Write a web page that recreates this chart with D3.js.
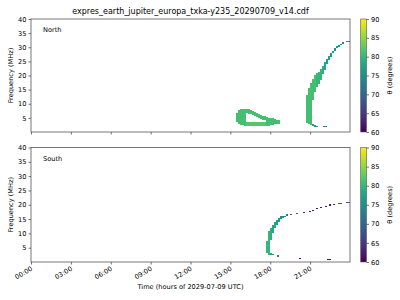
<!DOCTYPE html>
<html>
<head>
<meta charset="utf-8">
<script src="https://cdn.jsdelivr.net/npm/d3@7"></script>
<style>
  body { margin: 0; background: #fff; }
  svg text { font-family: "DejaVu Sans", sans-serif; fill: #000; }
</style>
</head>
<body>
<svg id="chart" width="400" height="300"></svg>
<script>
// time bins are 0.15 h wide, frequencies in MHz, theta in degrees
let binHours = 0.15;

let northT     = [15.45,15.6,15.75,15.9,16.05,16.2,16.2,16.35,16.35,16.5,16.5,16.65,16.65,16.8,16.8,16.95,16.95,17.1,17.1,17.25,17.25,17.4,17.4,17.55,17.55,17.7,17.85,18.0,18.15,18.3,18.45,18.6,
                  20.7,20.85,21.0,21.15,21.15,21.3,21.3,21.45,21.45,21.6,21.75,21.9,22.05,22.2,22.35,22.5,22.65,22.8,22.95,23.1,23.25,23.4,23.55,23.7,23.85,
                  21.98,22.13,22.85,23.0];
let northFlo   = [3.5,2.8,2.5,2.5,2.3,6.7,2.3,6.5,2.3,6.4,2.3,6.0,2.3,5.7,2.3,5.3,2.3,5.0,2.3,4.6,2.3,4.2,2.3,4.1,2.3,2.3,2.3,2.5,2.5,2.7,2.8,3.0,
                  3.2,2.8,2.5,11.3,2.1,14.2,1.9,15.9,1.9,17.0,18.4,20.5,21.9,24.1,25.5,26.7,27.8,28.7,29.6,30.1,30.8,31.3,31.7,32.0,32.0,
                  1.7,1.7,1.25,1.25];
let northFhi   = [6.7,7.8,8.1,8.3,8.3,8.1,3.7,8.0,3.5,7.8,3.5,7.4,3.5,7.1,3.5,6.7,3.4,6.4,3.4,6.0,3.4,5.7,3.4,5.5,3.4,5.3,5.1,5.0,4.8,4.6,4.4,4.2,
                  13.1,15.6,17.3,18.8,2.7,20.2,2.4,20.9,2.3,21.2,22.3,23.4,24.8,25.8,26.9,27.8,28.7,29.6,30.3,30.8,31.3,31.7,32.0,32.3,32.3,
                  2.0,2.0,1.5,1.5];
let northTheta = [81,81,81,81,81,81,82,81,82,81,82,81,82,81,82,81,82,81,82,81,82,81,82,81,82,81,81,81,81,81,81,81,
                  81,81,81,81,77,81,76,80,76,80,80,79,78,77,77,76,76,75,75,75,74,74,74,74,74,
                  73,73,66,66];

let southT     = [17.7,17.85,18.0,18.0,18.15,18.15,18.3,18.45,18.6,18.75,18.9,19.05,
                  18.5,19.15,20.15,22.25,22.42,
                  19.2,19.5,19.95,20.5,20.9,21.15,21.45,21.78,22.1,22.4,22.75,23.1,23.25,23.7,23.85];
let southFlo   = [3.1,2.6,7.7,2.4,10.1,2.3,11.9,12.9,13.9,15.0,15.3,15.7,
                  1.9,1.6,1.1,0.8,0.8,
                  16.2,16.4,16.8,17.2,17.6,17.9,18.4,18.9,19.3,19.7,20.0,20.3,20.3,20.5,20.5];
let southFhi   = [7.3,10.8,12.0,3.0,13.1,2.7,14.1,14.8,15.5,15.9,16.0,16.2,
                  2.3,1.9,1.4,1.1,1.1,
                  16.6,16.8,17.2,17.5,17.9,18.3,18.8,19.3,19.7,20.1,20.4,20.6,20.6,20.8,20.8];
let southTheta = [80,80,79,78,78,76,78,77,76,75,75,74,
                  74,69,61,61,61,
                  72,71,69,63,62,62,62,62,62,62,63,67,67,67,67];

let yTicks = [5,10,15,20,25,30,35,40];
let xTickHours = [0,3,6,9,12,15,18,21];
let cbTicks = [60,65,70,75,80,85,90];

function ready(fn) {
  if (document.readyState != 'loading') fn();
  else document.addEventListener('DOMContentLoaded', fn);
}
ready(main);

function main() {
  let svg = d3.select('#chart');
  let day0 = Date.UTC(2029, 6, 9);
  let toDate = h => new Date(day0 + h * 3600e3);

  let x = d3.scaleUtc().domain([toDate(0), toDate(24)]).range([31, 350]);
  let color = d3.scaleSequential(d3.interpolateViridis).domain([60, 90]);

  // gradient for colorbars
  let grad = svg.append('defs').append('linearGradient')
    .attr('id', 'viridis').attr('x1', 0).attr('x2', 0).attr('y1', 1).attr('y2', 0);
  d3.range(0, 1.0001, 0.05).forEach(function(s) {
    grad.append('stop').attr('offset', s).attr('stop-color', d3.interpolateViridis(s));
  });

  svg.append('text')
    .attr('x', 190.5).attr('y', 14)
    .attr('text-anchor', 'middle')
    .style('font-size', '8px')
    .text('expres_earth_jupiter_europa_txka-y235_20290709_v14.cdf');

  let panels = [
    {name: 'North', top: 19, bottom: 132, T: northT, lo: northFlo, hi: northFhi, th: northTheta, labels: false},
    {name: 'South', top: 147.5, bottom: 262, T: southT, lo: southFlo, hi: southFhi, th: southTheta, labels: true}
  ];

  panels.forEach(function(p, i) {
    let y = d3.scaleLinear().domain([0, 40]).range([p.bottom, p.top]);
    let g = svg.append('g');

    g.append('clipPath').attr('id', 'clip' + i)
      .append('rect').attr('x', 31).attr('y', p.top).attr('width', 319).attr('height', p.bottom - p.top);

    g.append('g').attr('clip-path', 'url(#clip' + i + ')')
      .selectAll('rect').data(p.T).join('rect')
      .attr('x', d => x(toDate(d)))
      .attr('width', d => x(toDate(d + binHours)) - x(toDate(d)))
      .attr('y', (d, k) => y(p.hi[k]))
      .attr('height', (d, k) => y(p.lo[k]) - y(p.hi[k]))
      .attr('fill', (d, k) => color(p.th[k]))
      .attr('shape-rendering', 'crispEdges');

    let xAxis = d3.axisBottom(x)
      .tickValues(xTickHours.map(toDate))
      .tickSize(2.5).tickPadding(2)
      .tickFormat(p.labels ? d3.utcFormat('%H:%M') : () => '');
    let xg = g.append('g').attr('transform', 'translate(0,' + p.bottom + ')').call(xAxis);
    xg.select('.domain').remove();
    if (p.labels) {
      xg.selectAll('.tick text')
        .attr('text-anchor', 'end')
        .attr('transform', 'translate(-2,2) rotate(-30)')
        .attr('dy', '0.75em').attr('y', 2);
    }

    let yAxis = d3.axisLeft(y).tickValues(yTicks).tickSize(2.5).tickPadding(2);
    let yg = g.append('g').attr('transform', 'translate(31,0)').call(yAxis);
    yg.select('.domain').remove();

    [xg, yg].forEach(function(a) {
      a.selectAll('.tick line').attr('stroke', '#333').attr('stroke-width', 0.7);
      a.selectAll('.tick text').style('font-size', '6.6px').attr('fill', '#000');
    });

    g.append('rect')
      .attr('x', 31).attr('y', p.top).attr('width', 319).attr('height', p.bottom - p.top)
      .attr('fill', 'none').attr('stroke', '#555').attr('stroke-width', 0.8);

    g.append('text').attr('x', 43).attr('y', p.top + 13)
      .style('font-size', '6.6px').text(p.name);

    g.append('text')
      .attr('transform', 'translate(12.5,' + ((p.top + p.bottom) / 2) + ') rotate(-90)')
      .attr('text-anchor', 'middle')
      .style('font-size', '6.6px').text('Frequency (MHz)');

    // colorbar
    let cb = d3.scaleLinear().domain([60, 90]).range([p.bottom, p.top]);
    g.append('rect')
      .attr('x', 360.7).attr('y', p.top).attr('width', 5.8).attr('height', p.bottom - p.top)
      .attr('fill', 'url(#viridis)').attr('stroke', '#555').attr('stroke-width', 0.6);
    let cg = g.append('g').attr('transform', 'translate(366.5,0)')
      .call(d3.axisRight(cb).tickValues(cbTicks).tickSize(2.5).tickPadding(2));
    cg.select('.domain').remove();
    cg.selectAll('.tick line').attr('stroke', '#333').attr('stroke-width', 0.7);
    cg.selectAll('.tick text').style('font-size', '6.6px').attr('fill', '#000');

    g.append('text')
      .attr('transform', 'translate(390,' + ((p.top + p.bottom) / 2) + ') rotate(-90)')
      .attr('text-anchor', 'middle').attr('dy', '0.35em')
      .style('font-size', '6.6px').text('θ (degrees)');
  });

  svg.append('text')
    .attr('x', 190.5).attr('y', 289)
    .attr('text-anchor', 'middle')
    .style('font-size', '6.6px')
    .text('Time (hours of 2029-07-09 UTC)');
}
</script>
</body>
</html>
